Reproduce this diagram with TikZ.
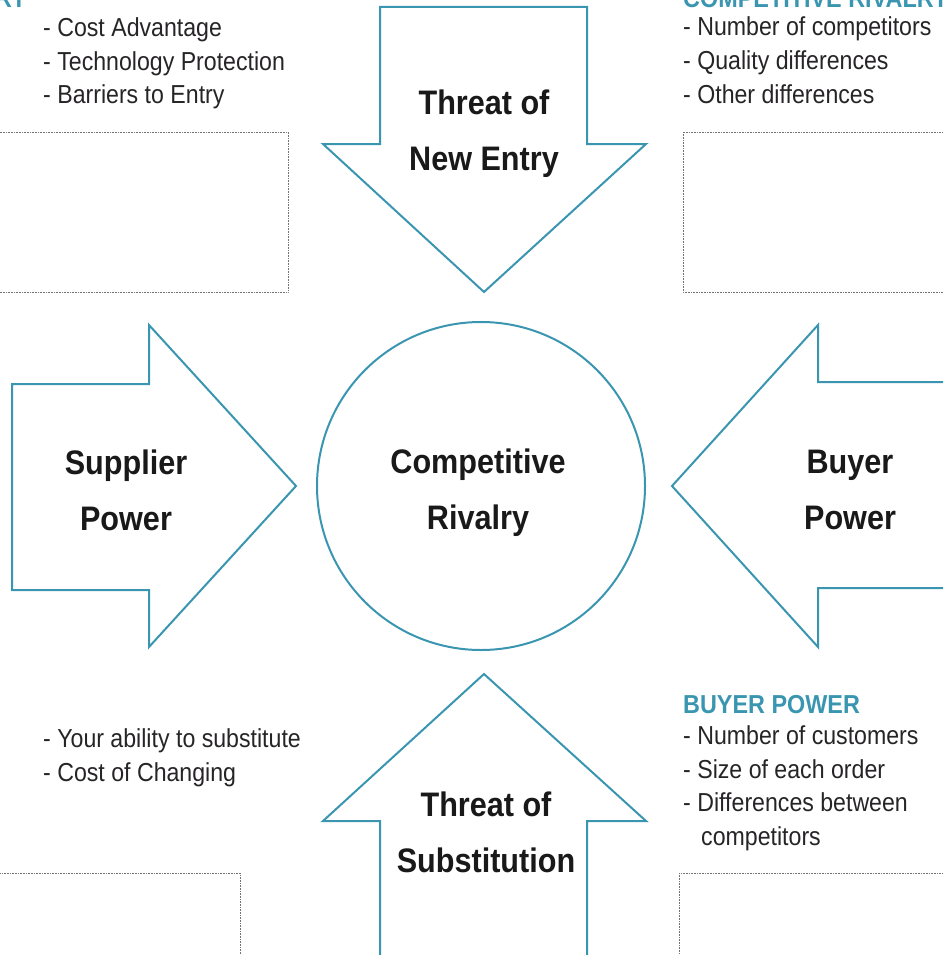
\documentclass[tikz,border=0pt]{standalone}
\usepackage{fontspec}
\setmainfont{Liberation Sans}
\newfontfamily\listfont[FakeStretch=0.89]{Liberation Sans}
\newfontfamily\forcefont[FakeStretch=0.9]{Liberation Sans}
\definecolor{porterteal}{RGB}{58,150,176}
\definecolor{listgray}{RGB}{38,36,38}

\begin{document}
\begin{tikzpicture}[
      x=1pt, y=-1pt,
      force/.style={draw=porterteal, line width=2pt, fill=white},
      forcetext/.style={font=\forcefont\bfseries\fontsize{34}{56}\selectfont, align=center, text=black!90},
      itemlist/.style={font=\listfont\fontsize{26}{33.5}\selectfont, align=left, anchor=base west, inner sep=0pt, text=listgray},
      heading/.style={font=\forcefont\bfseries\fontsize{26}{33.5}\selectfont, inner sep=0pt, text=porterteal},
      notebox/.style={draw=black!55, dash pattern=on 0.8pt off 0.8pt, line width=0.9pt}
    ]
    \useasboundingbox (0,0) rectangle (943,955);
    \clip (0,0) rectangle (943,955);
    % dotted note boxes
    \draw[notebox] (-10,132) rectangle (288,292);
    \draw[notebox] (683,132) rectangle (960,292);
    \draw[notebox] (-10,873) rectangle (240,975);
    \draw[notebox] (679,873) rectangle (960,975);
    % the four forces
    \draw[force] (380,7) -- (587,7) -- (587,144) -- (646,144) -- (484,292) -- (323,144) -- (380,144) -- cycle;
    \draw[force] (12,384) -- (149,384) -- (149,325) -- (296,486) -- (149,647) -- (149,590) -- (12,590) -- cycle;
    \draw[force] (965,382) -- (818,382) -- (818,325) -- (672,486) -- (818,647) -- (818,588) -- (965,588) -- cycle;
    \draw[force] (380,975) -- (380,821) -- (323,821) -- (484,674) -- (646,821) -- (587,821) -- (587,975) -- cycle;
    \node[forcetext] (entry) at (484,134) {Threat of\\New Entry};
    \node[forcetext] (supplier) at (126,490) {Supplier\\Power};
    \node[forcetext] (buyer) at (850,490) {Buyer\\Power};
    \node[forcetext] (substitution) at (486,832) {Threat of\\Substitution};
    \node[circle, draw=porterteal, line width=2pt, minimum size=328pt] (rivalry) at (481,486) {};
    \node[forcetext] (rivalrytext) at (478,493) {Competitive\\Rivalry};
    % notes (anchored on their last line)
    \node[heading, anchor=base east] (entryhead) at (27,8) {NEW ENTRY};
    \node[itemlist] (entrylist) at (43,104) {- Cost Advantage\\- Technology Protection\\- Barriers to Entry};
    \node[heading, anchor=base west] (rivalhead) at (683,8) {COMPETITIVE RIVALRY};
    \node[itemlist] (rivallist) at (683,103) {- Number of competitors\\- Quality differences\\- Other differences};
    \node[itemlist] (substlist) at (43,781) {- Your ability to substitute\\- Cost of Changing};
    \node[heading, anchor=base west] (buyerhead) at (683,713) {BUYER POWER};
    \node[itemlist] (buyerlist) at (683,845) {- Number of customers\\- Size of each order\\- Differences between\\\hspace*{18pt}competitors};
  \end{tikzpicture}
\end{document}
